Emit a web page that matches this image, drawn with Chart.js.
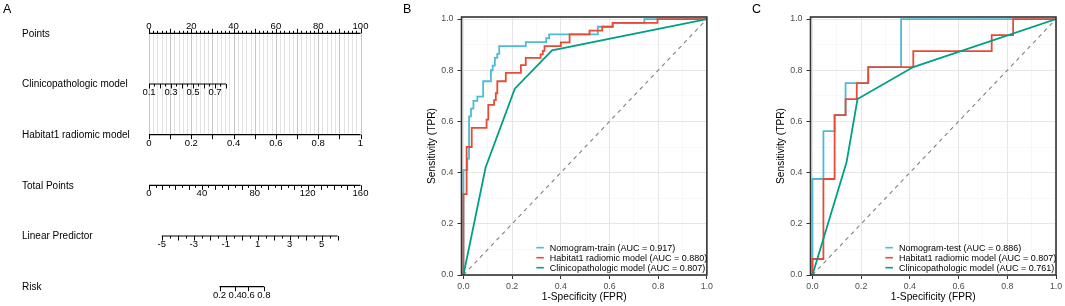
<!DOCTYPE html>
<html>
<head>
<meta charset="utf-8">
<script src="https://cdn.jsdelivr.net/npm/chart.js@4.4.1/dist/chart.umd.min.js"></script>
<style>
  html, body { margin: 0; padding: 0; background: #fff; }
  body { width: 1065px; height: 306px; position: relative; overflow: hidden;
         font-family: "Liberation Sans", Arial, sans-serif; }
  .panel { position: absolute; top: 0; height: 306px; }
  .tag { position: absolute; top: 3px; font-size: 12.5px; line-height: 12px; color: #000; }
</style>
</head>
<body>
<div class="panel" style="left:0;width:400px"><canvas id="nomo"></canvas></div>
<div class="panel" style="left:400px;width:315px"><canvas id="rocTrain"></canvas></div>
<div class="panel" style="left:749px;width:316px"><canvas id="rocTest"></canvas></div>
<div class="tag" style="left:3px">A</div>
<div class="tag" style="left:403px">B</div>
<div class="tag" style="left:752px">C</div>

<script>
// ---- panel A : nomogram ----
var nomoLabels = ["Points", "Clinicopathologic model", "Habitat1 radiomic model",
                  "Total Points", "Linear Predictor", "Risk"];

var pointsTicks = [0, 10, 20, 30, 40, 50, 60, 70, 80, 90, 100];
var pointsMinor = [0, 2, 4, 6, 8, 10, 12, 14, 16, 18, 20, 22, 24, 26, 28, 30, 32, 34, 36, 38, 40,
                   42, 44, 46, 48, 50, 52, 54, 56, 58, 60, 62, 64, 66, 68, 70, 72, 74, 76, 78, 80,
                   82, 84, 86, 88, 90, 92, 94, 96, 98, 100];
var pointsLabels = [0, 20, 40, 60, 80, 100];

var clinicoTicks = [0.1, 0.15, 0.2, 0.25, 0.3, 0.35, 0.4, 0.45, 0.5, 0.55, 0.6, 0.65, 0.7, 0.75, 0.8];
var clinicoLabels = [0.1, 0.3, 0.5, 0.7];
var clinicoPoints = [0, 36.4];          // points given to 0.1 and 0.8

var habitatTicks = [0, 0.1, 0.2, 0.3, 0.4, 0.5, 0.6, 0.7, 0.8, 0.9, 1];
var habitatLabels = [0, 0.2, 0.4, 0.6, 0.8, 1];

var totalTicks = [0, 5, 10, 15, 20, 25, 30, 35, 40, 45, 50, 55, 60, 65, 70, 75, 80, 85, 90, 95, 100,
                  105, 110, 115, 120, 125, 130, 135, 140, 145, 150, 155, 160];
var totalLabels = [0, 40, 80, 120, 160];

var lpTicks = [-5, -4.5, -4, -3.5, -3, -2.5, -2, -1.5, -1, -0.5, 0, 0.5, 1, 1.5, 2, 2.5, 3, 3.5,
               4, 4.5, 5, 5.5, 6];
var lpLabels = [-5, -3, -1, 1, 3, 5];
var lpPoints = [6.0, 81.65];            // points under LP = -5 and LP = 5

var riskTicks = [0.2, 0.4, 0.6, 0.8];
var riskLabels = ["0.2", "0.4", "0.6", "0.8"];

function clinicoToPts(v) { return clinicoPoints[0] + (v - 0.1) / 0.7 * (clinicoPoints[1] - clinicoPoints[0]); }
function habitatToPts(v) { return v * 100; }
function totalToPts(v) { return v * 100 / 160; }
function lpToPts(v) { return lpPoints[0] + (v + 5) / 10 * (lpPoints[1] - lpPoints[0]); }
function riskToPts(r) { return lpToPts(Math.log(r / (1 - r))); }

var nomoAxes = [
  { row: 0, ticks: pointsMinor, major: pointsTicks, labels: pointsLabels, map: function (v) { return v; }, up: true },
  { row: 1, ticks: clinicoTicks, major: [0.1, 0.2, 0.3, 0.4, 0.5, 0.6, 0.7, 0.8], labels: clinicoLabels, map: clinicoToPts },
  { row: 2, ticks: habitatTicks, major: habitatTicks, labels: habitatLabels, map: habitatToPts },
  { row: 3, ticks: totalTicks, major: [0, 10, 20, 30, 40, 50, 60, 70, 80, 90, 100, 110, 120, 130, 140, 150, 160], labels: totalLabels, map: totalToPts },
  { row: 4, ticks: lpTicks, major: [-5, -4, -3, -2, -1, 0, 1, 2, 3, 4, 5, 6], labels: lpLabels, map: lpToPts },
  { row: 5, ticks: riskTicks, major: riskTicks, labels: riskLabels, map: riskToPts }
];

var nomoPlugin = {
  id: "nomo",
  beforeDatasetsDraw: function (chart) {
    var ctx = chart.ctx, x = chart.scales.x, y = chart.scales.y;
    ctx.save();
    pointsMinor.forEach(function (p) {
      var px = Math.round(x.getPixelForValue(p)) + 0.5;
      ctx.strokeStyle = p % 10 === 0 ? "#c6c6c6" : "#e2e2e2";
      ctx.lineWidth = 1;
      ctx.beginPath();
      ctx.moveTo(px, y.getPixelForValue(0));
      ctx.lineTo(px, y.getPixelForValue(2));
      ctx.stroke();
    });
    ctx.restore();
  },
  afterDatasetsDraw: function (chart) {
    var ctx = chart.ctx, x = chart.scales.x, y = chart.scales.y;
    ctx.save();
    ctx.strokeStyle = "#000";
    ctx.fillStyle = "#000";
    ctx.lineWidth = 1;
    nomoAxes.forEach(function (a) {
      var py = y.getPixelForValue(a.row);
      var dir = a.up ? -1 : 1;
      a.ticks.forEach(function (v) {
        var isMajor = a.major.some(function (m) { return Math.abs(m - v) < 1e-9; });
        var px = Math.round(x.getPixelForValue(a.map(v))) + 0.5;
        ctx.beginPath();
        ctx.moveTo(px, py);
        ctx.lineTo(px, py + dir * (isMajor ? 4.5 : 2.5));
        ctx.stroke();
      });
      ctx.font = "9.5px 'Liberation Sans', Arial, sans-serif";
      ctx.textAlign = "center";
      ctx.textBaseline = "middle";
      a.labels.forEach(function (v) {
        var px = x.getPixelForValue(a.map(Number(v)));
        ctx.fillText(String(v), px, py + (a.up ? -7 : 8.5));
      });
    });
    ctx.font = "10px 'Liberation Sans', Arial, sans-serif";
    ctx.textAlign = "left";
    ctx.textBaseline = "middle";
    nomoLabels.forEach(function (t, i) {
      ctx.fillText(t, 22, y.getPixelForValue(i) + 0.5);
    });
    ctx.restore();
  }
};

new Chart(document.getElementById("nomo"), {
  type: "scatter",
  data: {
    datasets: nomoAxes.map(function (a) {
      return {
        data: [{ x: a.map(a.ticks[0]), y: a.row }, { x: a.map(a.ticks[a.ticks.length - 1]), y: a.row }],
        showLine: true,
        borderColor: "#000",
        borderWidth: 1.2,
        pointRadius: 0,
        clip: false
      };
    })
  },
  options: {
    animation: false,
    responsive: true,
    maintainAspectRatio: false,
    layout: { padding: { left: 149, right: 39.5, top: 33.3, bottom: 19.3 } },
    plugins: { legend: { display: false }, tooltip: { enabled: false } },
    scales: {
      x: { type: "linear", min: 0, max: 100, display: false },
      y: { type: "linear", min: 0, max: 5, reverse: true, display: false }
    }
  },
  plugins: [nomoPlugin]
});

// ---- panel B : training ROC ----
var trainNomoFpr = [0, 0, 0.016, 0.016, 0.023, 0.023, 0.031, 0.031, 0.041, 0.041, 0.057, 0.057, 0.081, 0.081,
                    0.113, 0.113, 0.12, 0.12, 0.129, 0.129, 0.139, 0.139, 0.147, 0.147, 0.256, 0.256,
                    0.34, 0.34, 0.352, 0.352, 0.552, 0.552, 0.613, 0.613, 0.743, 0.743, 1];
var trainNomoTpr = [0, 0.41, 0.41, 0.455, 0.455, 0.62, 0.62, 0.65, 0.65, 0.68, 0.68, 0.697, 0.697, 0.757,
                    0.757, 0.80, 0.80, 0.818, 0.818, 0.848, 0.848, 0.864, 0.864, 0.894, 0.894, 0.91,
                    0.91, 0.925, 0.925, 0.94, 0.94, 0.97, 0.97, 0.985, 0.985, 1, 1];
var trainRadFpr = [0, 0, 0.013, 0.013, 0.034, 0.034, 0.095, 0.095, 0.102, 0.102, 0.126, 0.126, 0.133, 0.133,
                   0.139, 0.139, 0.174, 0.174, 0.236, 0.236, 0.256, 0.256, 0.317, 0.317, 0.326, 0.326,
                   0.333, 0.333, 0.40, 0.40, 0.436, 0.436, 0.518, 0.518, 0.57, 0.57, 0.613, 0.613,
                   0.797, 0.797, 1];
var trainRadTpr = [0, 0.316, 0.316, 0.5, 0.5, 0.575, 0.575, 0.607, 0.607, 0.665, 0.665, 0.683, 0.683, 0.71,
                   0.71, 0.757, 0.757, 0.79, 0.79, 0.82, 0.82, 0.848, 0.848, 0.862, 0.862, 0.876,
                   0.876, 0.894, 0.894, 0.909, 0.909, 0.94, 0.94, 0.955, 0.955, 0.97, 0.97, 0.985,
                   0.985, 1, 1];
var trainClinFpr = [0, 0.091, 0.211, 0.364, 1];
var trainClinTpr = [0, 0.42, 0.728, 0.878, 1];
var trainNames = ["Nomogram-train (AUC = 0.917)", "Habitat1 radiomic model (AUC = 0.880)",
                  "Clinicopathologic model (AUC = 0.807)"];

// ---- panel C : test ROC ----
var testNomoFpr = [0, 0, 0.045, 0.045, 0.091, 0.091, 0.136, 0.136, 0.229, 0.229, 0.364, 0.364, 1];
var testNomoTpr = [0, 0.375, 0.375, 0.5625, 0.5625, 0.625, 0.625, 0.75, 0.75, 0.8125, 0.8125, 1, 1];
var testRadFpr = [0, 0, 0.045, 0.045, 0.091, 0.091, 0.136, 0.136, 0.182, 0.182, 0.229, 0.229,
                  0.414, 0.414, 0.736, 0.736, 0.824, 0.824, 1];
var testRadTpr = [0, 0.0625, 0.0625, 0.375, 0.375, 0.625, 0.625, 0.6875, 0.6875, 0.75, 0.75, 0.8125,
                  0.8125, 0.875, 0.875, 0.9375, 0.9375, 1, 1];
var testClinFpr = [0, 0.14, 0.185, 0.414, 1];
var testClinTpr = [0, 0.44, 0.6875, 0.8125, 1];
var testNames = ["Nomogram-test (AUC = 0.886)", "Habitat1 radiomic model (AUC = 0.807)",
                 "Clinicopathologic model (AUC = 0.761)"];

var rocColors = ["#4DBBD5", "#E64B35", "#00A087"];
var gridSteps = [0, 0.1, 0.2, 0.3, 0.4, 0.5, 0.6, 0.7, 0.8, 0.9, 1];

function pts(xs, ys) {
  return xs.map(function (v, i) { return { x: v, y: ys[i] }; });
}

var frameAndLegend = {
  id: "frameAndLegend",
  afterDatasetsDraw: function (chart) {
    var ctx = chart.ctx, a = chart.chartArea;
    ctx.save();
    ctx.strokeStyle = "#333";
    ctx.lineWidth = 1.6;
    ctx.strokeRect(a.left, a.top, a.right - a.left, a.bottom - a.top);
    var tx = chart.scales.x.getPixelForValue(0.355);
    ctx.font = "9px 'Liberation Sans', Arial, sans-serif";
    ctx.textAlign = "left";
    ctx.textBaseline = "middle";
    chart.data.datasets.forEach(function (d, i) {
      if (!d.inLegend) return;
      var ty = a.bottom - 27.3 + i * 10;
      ctx.strokeStyle = d.borderColor;
      ctx.lineWidth = 1.6;
      ctx.beginPath();
      ctx.moveTo(tx - 13.5, ty);
      ctx.lineTo(tx - 6, ty);
      ctx.stroke();
      ctx.fillStyle = "#000";
      ctx.fillText(d.label, tx, ty + 0.5);
    });
    ctx.restore();
  }
};

function rocChart(id, series, names, rightPad) {
  var datasets = series.map(function (s, i) {
    return {
      label: names[i],
      data: pts(s[0], s[1]),
      showLine: true,
      borderColor: rocColors[i],
      borderWidth: 1.8,
      pointRadius: 0,
      tension: 0,
      order: 3 - i,
      inLegend: true
    };
  });
  datasets.push({
    label: "diag",
    data: pts([0, 1], [0, 1]),
    showLine: true,
    borderColor: "#808080",
    borderWidth: 1.1,
    borderDash: [4, 4],
    pointRadius: 0,
    order: 5
  });
  var tickFont = { family: "'Liberation Sans', Arial, sans-serif", size: 8.8 };
  var titleFont = { family: "'Liberation Sans', Arial, sans-serif", size: 10.2 };
  function gridOpts() {
    return {
      color: function (c) { return c.index % 2 ? "#f4f4f4" : "#e6e6e6"; },
      lineWidth: function (c) { return c.index % 2 ? 0.6 : 1; },
      tickColor: function (c) { return c.index % 2 ? "rgba(0,0,0,0)" : "#333"; },
      tickLength: 4
    };
  }
  return new Chart(document.getElementById(id), {
    type: "scatter",
    data: { datasets: datasets },
    options: {
      animation: false,
      responsive: true,
      maintainAspectRatio: false,
      layout: { padding: { left: 0, right: rightPad, top: 17, bottom: 0 } },
      plugins: { legend: { display: false }, tooltip: { enabled: false } },
      scales: {
        x: {
          type: "linear", min: -0.008, max: 1,
          afterBuildTicks: function (s) { s.ticks = gridSteps.map(function (v) { return { value: v }; }); },
          afterFit: function (s) { s.height = 31; },
          border: { display: false },
          grid: gridOpts(),
          ticks: {
            autoSkip: false, maxRotation: 0, padding: 2, color: "#4d4d4d", font: tickFont,
            callback: function (v, i) { return i % 2 ? "" : v.toFixed(1); }
          },
          title: { display: true, text: "1-Specificity (FPR)", color: "#000", font: titleFont,
                   padding: { top: 0, bottom: 2.9 } }
        },
        y: {
          type: "linear", min: 0, max: 1.008,
          afterBuildTicks: function (s) { s.ticks = gridSteps.map(function (v) { return { value: v }; }); },
          afterFit: function (s) { s.width = 61.5; },
          border: { display: false },
          grid: gridOpts(),
          ticks: {
            autoSkip: false, padding: 4, color: "#4d4d4d", font: tickFont,
            callback: function (v, i) { return i % 2 ? "" : v.toFixed(1); }
          },
          title: { display: true, text: "Sensitivity (TPR)", color: "#000", font: titleFont,
                   padding: { top: 25.6, bottom: 0 } }
        }
      }
    },
    plugins: [frameAndLegend]
  });
}

rocChart("rocTrain", [[trainNomoFpr, trainNomoTpr], [trainRadFpr, trainRadTpr], [trainClinFpr, trainClinTpr]],
         trainNames, 7.5);
rocChart("rocTest", [[testNomoFpr, testNomoTpr], [testRadFpr, testRadTpr], [testClinFpr, testClinTpr]],
         testNames, 9);
</script>
</body>
</html>
